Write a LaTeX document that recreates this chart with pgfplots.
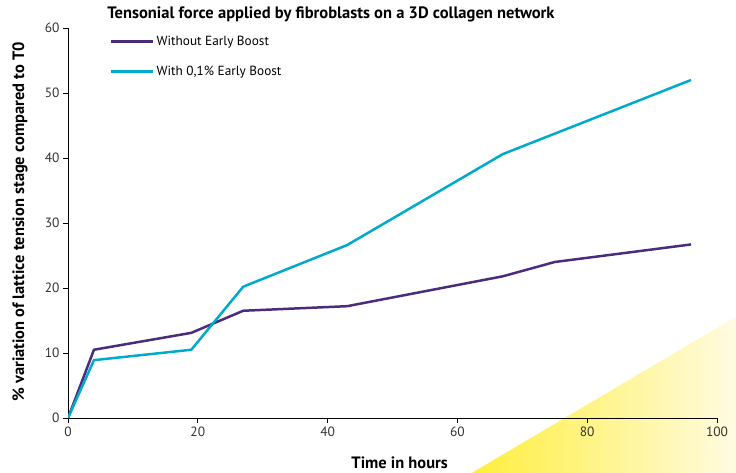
\documentclass[border=0pt]{standalone}
\usepackage{fontspec}
\setmainfont{PT Sans}
\usepackage{pgfplots}
\pgfplotsset{compat=1.18}
\definecolor{purp}{HTML}{4B2C7C}
\definecolor{cyanl}{HTML}{00AACB}
\definecolor{yel1}{HTML}{FFEE3C}
\definecolor{yel2}{HTML}{FFFBE2}
\begin{document}
\begin{tikzpicture}
  \useasboundingbox (-68bp,-55bp) rectangle (668bp,418bp);
  \clip (-68bp,-55bp) rectangle (668bp,418bp);
  % decorative corner shape
  \shade[left color=yel1, right color=yel2] (402bp,-56bp) -- (669bp,102bp) -- (669bp,-56bp) -- cycle;
  \begin{axis}[
      at={(0,0)}, anchor=origin,
      scale only axis,
      width=649bp, height=390bp,
      xmin=0, xmax=100, ymin=0, ymax=60,
      xtick={0,20,...,100}, ytick={0,10,...,60},
      axis x line*=bottom, axis y line*=left,
      axis line style={line width=0.9pt, -},
      tick style={line width=0.8pt, black},
      tick align=outside,
      major tick length=5bp,
      /pgf/number format/assume math mode=true,
      tick label style={font=\fontsize{13.5}{15}\selectfont, text=black!80},
      xlabel={\textbf{Time in hours}},
      ylabel={\textbf{\% variation of lattice tension stage compared to T0}},
      xlabel style={font=\fontsize{16.5}{18}\selectfont, at={(axis description cs:0.511,-0.115)}, anchor=center},
      ylabel style={font=\fontsize{16.5}{18}\selectfont, at={(axis description cs:-0.074,0.503)}, anchor=center},
      legend style={draw=none, fill=none, at={(42bp,384bp)}, anchor=north west,
        font=\fontsize{13.3}{15}\selectfont, row sep=15bp, inner sep=0pt},
      legend cell align=left,
      legend image code/.code={\draw[#1] (0bp,0bp) -- (42bp,0bp);},
    ]
    \addplot[purp, line width=2.5pt] coordinates {
      (0,0) (4,10.5) (19,13.1) (27,16.5) (43,17.2) (67,21.8) (75,24) (96,26.7)
    };
    \addlegendentry{Without Early Boost}
    \addplot[cyanl, line width=2.5pt] coordinates {
      (0,0) (4,8.9) (19,10.5) (27,20.2) (43,26.6) (67,40.6) (96,52)
    };
    \addlegendentry{With 0,1\% Early Boost}
  \end{axis}
  \node[font=\fontsize{16.6}{18}\selectfont\bfseries, anchor=center] at (263bp,404bp)
    {Tensonial force applied by fibroblasts on a 3D collagen network};
\end{tikzpicture}
\end{document}
